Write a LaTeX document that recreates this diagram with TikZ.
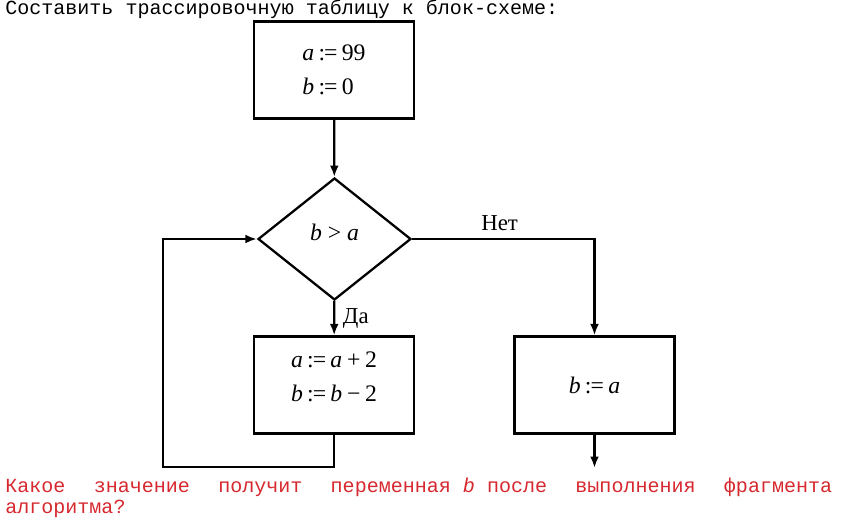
\documentclass[tikz,border=0pt]{standalone}
\usepackage{fontspec}
\setmainfont{Liberation Serif}
\setmonofont{Liberation Mono}
\usepackage{xcolor}
\usetikzlibrary{shapes.geometric,arrows.meta,positioning}

\definecolor{qred}{RGB}{214,40,46}
\newcommand{\asgn}{\kern0.18em:\kern-0.04em=\kern0.18em}
\newcommand{\vr}[1]{\textit{#1}}
\newcommand{\lift}[1]{\rule[-#1]{0pt}{0pt}}

\tikzset{
  block/.style={draw, rectangle, line width=1.3pt, minimum width=3.2cm, minimum height=1.94cm, inner sep=0pt, font=\fontsize{13.5}{19.3}\selectfont},
  cond/.style={draw, diamond, line width=1.3pt, minimum width=3.06cm, minimum height=2.44cm, inner sep=0pt, font=\fontsize{13.5}{16}\selectfont},
  flow/.style={line width=1.3pt, -{Latex[length=6.5pt,width=5pt]}},
  lbl/.style={font=\fontsize{13}{15}\selectfont},
  mono/.style={font=\fontsize{11.4}{13}\ttfamily, inner sep=0pt},
}

\begin{document}
\begin{tikzpicture}[x=0.02cm, y=-0.02cm]
    \useasboundingbox (0,0) rectangle (867,518);

    \node (title) [mono, anchor=base west] at (5,14.5) {Составить трассировочную таблицу к блок-схеме:};

    \node (init) [block, align=left] at (334,70) {\vr{a}\asgn 99\\\vr{b}\asgn 0};
    \node (check) [cond] at (334.5,239) {\vr{b}\kern0.25em>\kern0.25em\vr{a}\lift{0.28cm}};
    \node (body) [block, align=center] at (334,385) {\vr{a}\asgn\vr{a}\kern0.2em+\kern0.2em2\\\vr{b}\asgn\vr{b}\kern0.2em−\kern0.2em2\lift{0.32cm}};
    \node (assign) [block] at (594.5,385) {\vr{b}\asgn\vr{a}};

    \coordinate (exit) at (594.5,468);
    \coordinate (back) at (163,467);

    \draw[flow] (init) -- (check);
    \draw[flow] (check) -- node[lbl, right=1pt] {Да} (body);
    \draw[flow] (check.east) -| node[lbl, pos=0.24, above=1pt] {Нет} (assign.north);
    \draw[flow] (assign) -- (exit);
    \draw[flow] (body.south) |- (back) |- (check.west);

    \node (quest) [mono, text=qred, anchor=base west] at (5,492) {\makebox[16.54cm][l]{Какое\hfill значение\hfill получит\hfill переменная \textit{b} после\hfill выполнения\hfill фрагмента}};
    \node (quest2) [mono, text=qred, anchor=base west] at (5,513) {алгоритма?};
\end{tikzpicture}
\end{document}
